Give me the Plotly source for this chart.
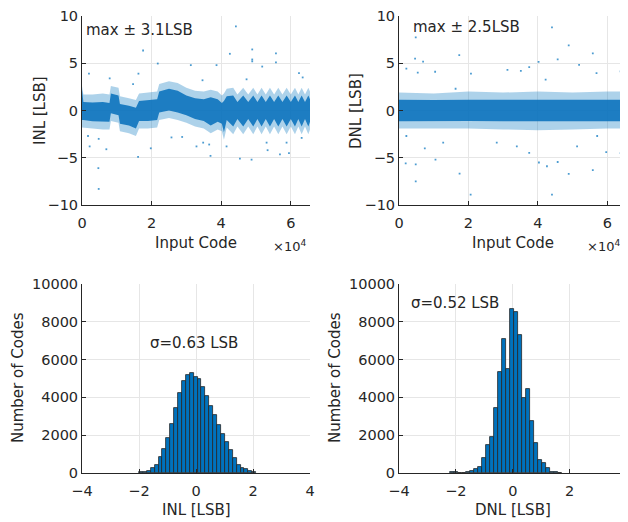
import plotly.graph_objects as go

# The page body has an 8 px margin, so the figure is drawn 8 px in from the
# window's top-left corner; positions below are given in window pixels.
OFF = 8
W, H = 628 - OFF, 522 - OFF

# ---------------- data ----------------
# INL vs input code: dense band (core) and sparse speckle envelope (outer)
inl_codes = [0, 400, 3000, 6000, 7900, 8300, 10500, 10900, 13500, 15500, 16400, 19000,
             21600, 22200, 25000, 27500, 30000, 32500, 35000, 37000, 39000, 40200, 40800,
             41600, 43470, 44670, 46340, 47780, 49220, 50420, 51620, 52820, 54020, 55220,
             56420, 57620, 58820, 60020, 61220, 62180, 63140, 64100, 65060, 65536]
inl_core_hi = [2.2, 0.9, 0.85, 0.9, 0.8, 1.8, 1.6, 0.7, 0.5, 0.3, 1.0, 1.1,
               1.2, 2.0, 2.3, 2.1, 1.6, 1.3, 1.2, 1.4, 1.2, 0.8, 1.0,
               1.5, 1.6, 0.9, 1.6, 0.9, 1.6, 0.9, 1.6, 0.9, 1.6, 0.9,
               1.6, 0.9, 1.6, 0.9, 1.6, 0.9, 1.6, 0.9, 1.6, 1.2]
inl_core_lo = [-1.0, -1.0, -1.15, -1.2, -1.2, -0.3, -0.5, -1.4, -1.6, -1.9, -1.1, -1.1,
               -1.0, -0.2, 0.0, -0.2, -0.5, -0.9, -1.1, -1.6, -1.2, -1.4, -2.3,
               -1.0, -1.7, -0.9, -1.7, -0.9, -1.7, -0.9, -1.7, -0.9, -1.7, -0.9,
               -1.7, -0.9, -1.7, -0.9, -1.7, -0.9, -1.7, -0.9, -1.7, -1.2]
inl_outer_hi = [2.6, 1.7, 1.7, 1.8, 1.7, 2.6, 2.4, 1.5, 1.3, 1.1, 1.8, 1.9,
                2.0, 2.8, 3.1, 2.9, 2.4, 2.1, 2.0, 2.2, 2.0, 1.6, 1.8,
                2.3, 2.4, 1.7, 2.4, 1.7, 2.4, 1.7, 2.4, 1.7, 2.4, 1.7,
                2.4, 1.7, 2.4, 1.7, 2.4, 1.7, 2.4, 1.7, 2.4, 2.0]
inl_outer_lo = [-1.8, -1.8, -1.9, -2.0, -2.0, -1.1, -1.3, -2.2, -2.4, -2.7, -1.9, -1.9,
                -1.8, -1.0, -0.8, -1.0, -1.3, -1.7, -1.9, -2.4, -2.0, -2.2, -3.1,
                -1.8, -2.5, -1.7, -2.5, -1.7, -2.5, -1.7, -2.5, -1.7, -2.5, -1.7,
                -2.5, -1.7, -2.5, -1.7, -2.5, -1.7, -2.5, -1.7, -2.5, -2.0]
inl_out_code = [44230, 17560, 48930, 48930, 48930, 55750, 55750, 42500, 21780, 31280,
                2000, 16220, 51800, 62370, 38670, 1730, 2200, 4800, 7000, 4700, 4800,
                16120, 19770, 25720, 28790, 32910, 36940, 34830, 36560, 41550, 45390,
                48740, 53060, 53350, 56900, 59490, 63140, 58800, 14680, 7960, 34640,
                47300, 63430]
inl_out_val = [8.9, 6.35, 6.46, 5.4, 5.2, 6.04, 5.1, 6.0, 4.97, 4.8,
               3.9, 3.9, 4.65, 3.96, 4.8, -2.7, -3.8, -3.0, -4.1, -6.1, -8.3,
               -4.9, -4.0, -2.85, -2.8, -3.8, -4.8, -3.4, -3.6, -3.8, -5.1,
               -5.2, -3.4, -4.2, -4.65, -4.5, -2.9, -3.4, 2.8, 3.4, 3.2,
               3.3, 3.5]

# DNL vs input code
dnl_codes = [0, 10000, 20000, 30000, 40000, 50000, 60000, 65536]
dnl_core_hi = [1.15, 1.1, 1.15, 1.15, 1.15, 1.1, 1.15, 1.15]
dnl_core_lo = [-1.15, -1.15, -1.1, -1.15, -1.2, -1.15, -1.15, -1.15]
dnl_outer_hi = [1.9, 1.8, 2.0, 1.9, 2.0, 1.9, 2.0, 2.0]
dnl_outer_lo = [-1.9, -1.9, -1.9, -2.0, -2.1, -2.0, -1.9, -1.9]
dnl_out_code = [44070, 4820, 48890, 55830, 17360, 4630, 6940, 40210, 45710, 51880,
                2120, 5400, 10410, 16300, 20730, 31240, 35100, 37510, 42240, 56900,
                63840, 1930, 4820, 4820, 10510, 17450, 20640, 37510, 40310, 42620,
                44070, 45710, 48890, 55830, 59690, 63840, 2120, 7430, 12730, 28160,
                33940, 51300, 57090]
dnl_out_val = [8.8, 7.74, 6.9, 6.04, 5.87, 5.5, 5.17, 5.14, 5.4, 4.83,
               4.44, 4.0, 4.1, 2.3, 3.9, 4.3, 4.2, 4.6, 3.26, 3.96,
               4.13, -5.6, -7.5, -5.7, -5.2, -6.67, -8.9, -4.48, -5.5, -5.9,
               -8.9, -5.45, -6.7, -6.3, -4.4, -4.5, -2.7, -4.0, -3.4, -3.4,
               -3.8, -3.8, -2.7]

# Histograms
inl_bin_start, inl_bin_width = -2.0, 0.137
inl_counts = [35, 50, 120, 265, 440, 830, 1250, 1835, 2575, 3440, 4215, 4886, 5186, 5274,
              5098, 4957, 4533, 4057, 3563, 3069, 2540, 2064, 1658, 1217, 776, 441, 282,
              194, 106, 53]
dnl_bin_start, dnl_bin_width = -2.2, 0.141
dnl_counts = [35, 35, 20, 10, 50, 105, 195, 320, 775, 1480, 1905, 3420, 5345, 7070, 5500,
              8680, 8500, 7300, 3970, 4445, 2735, 1570, 670, 530, 265, 70, 35, 20]

code_ticks = [0, 20000, 40000, 60000]
code_ticktext = ["0", "2", "4", "6"]

# ---------------- styling ----------------
FONT = "DejaVu Sans"
TXT = "#262626"
BLUE = "#0072BD"


def px_x(p):
    return (p - OFF) / W


def px_y(p):
    return 1 - (p - OFF) / H


dom_x_left = [px_x(82), px_x(310)]
dom_x_right = [px_x(399), px_x(626.5)]
dom_y_top = [px_y(205), px_y(16)]
dom_y_bot = [px_y(473), px_y(284)]

axis_common = dict(showline=True, linecolor=TXT, linewidth=1, ticks="inside", ticklen=4,
                   tickcolor=TXT, showgrid=True, gridcolor="#e6e6e6", gridwidth=1,
                   zeroline=False, mirror=False, automargin=False,
                   ticklabeloverflow="allow",
                   tickfont=dict(family=FONT, size=14.5, color=TXT))
xaxis_common = dict(axis_common, ticklabelstandoff=5)

fig = go.Figure()


def band(xa, hi, lo, xref, yref, color):
    fig.add_trace(go.Scatter(x=list(xa) + list(xa)[::-1], y=list(hi) + list(lo)[::-1],
                             fill="toself", fillcolor=color, mode="lines",
                             line=dict(width=0), hoverinfo="skip", showlegend=False,
                             xaxis=xref, yaxis=yref))


# INL scatter
band(inl_codes, inl_outer_hi, inl_outer_lo, "x", "y", "rgba(0,114,189,0.32)")
band(inl_codes, inl_core_hi, inl_core_lo, "x", "y", "rgba(16,117,190,0.92)")
fig.add_trace(go.Scatter(x=inl_out_code, y=inl_out_val, mode="markers",
                         marker=dict(symbol="square", size=1.8, color=BLUE, opacity=0.7),
                         showlegend=False, xaxis="x", yaxis="y"))
# DNL scatter
band(dnl_codes, dnl_outer_hi, dnl_outer_lo, "x2", "y2", "rgba(0,114,189,0.32)")
band(dnl_codes, dnl_core_hi, dnl_core_lo, "x2", "y2", "rgba(16,117,190,0.92)")
fig.add_trace(go.Scatter(x=dnl_out_code, y=dnl_out_val, mode="markers",
                         marker=dict(symbol="square", size=1.8, color=BLUE, opacity=0.7),
                         showlegend=False, xaxis="x2", yaxis="y2"))

# Histograms
inl_centers = [inl_bin_start + inl_bin_width * (i + 0.5) for i in range(len(inl_counts))]
dnl_centers = [dnl_bin_start + dnl_bin_width * (i + 0.5) for i in range(len(dnl_counts))]
fig.add_trace(go.Bar(x=inl_centers, y=inl_counts, width=inl_bin_width,
                     marker=dict(color=BLUE, line=dict(color=TXT, width=0.8)),
                     showlegend=False, xaxis="x3", yaxis="y3"))
fig.add_trace(go.Bar(x=dnl_centers, y=dnl_counts, width=dnl_bin_width,
                     marker=dict(color=BLUE, line=dict(color=TXT, width=0.8)),
                     showlegend=False, xaxis="x4", yaxis="y4"))

fig.update_layout(
    template="none",
    width=W, height=H, autosize=False,
    margin=dict(l=0, r=0, t=0, b=0, pad=0),
    paper_bgcolor="white", plot_bgcolor="white",
    bargap=0, showlegend=False,
    xaxis=dict(xaxis_common, domain=dom_x_left, anchor="y", range=[0, 65536],
               tickvals=code_ticks, ticktext=code_ticktext),
    yaxis=dict(axis_common, domain=dom_y_top, anchor="x", range=[-10, 10],
               tickvals=[-10, -5, 0, 5, 10]),
    xaxis2=dict(xaxis_common, domain=dom_x_right, anchor="y2", range=[0, 65536],
                tickvals=code_ticks, ticktext=code_ticktext),
    yaxis2=dict(axis_common, domain=dom_y_top, anchor="x2", range=[-10, 10],
                tickvals=[-10, -5, 0, 5, 10]),
    xaxis3=dict(xaxis_common, domain=dom_x_left, anchor="y3", range=[-4, 4],
                tickvals=[-4, -2, 0, 2, 4]),
    yaxis3=dict(axis_common, domain=dom_y_bot, anchor="x3", range=[0, 10000],
                tickvals=[0, 2000, 4000, 6000, 8000, 10000], tickformat="d"),
    xaxis4=dict(xaxis_common, domain=dom_x_right, anchor="y4", range=[-4, 4],
                tickvals=[-4, -2, 0, 2, 4]),
    yaxis4=dict(axis_common, domain=dom_y_bot, anchor="x4", range=[0, 10000],
                tickvals=[0, 2000, 4000, 6000, 8000, 10000], tickformat="d"),
)


def ann(text, x, y, size=15, angle=0):
    fig.add_annotation(text=text, x=px_x(x), y=px_y(y), xref="paper", yref="paper",
                       showarrow=False, textangle=angle, xanchor="center", yanchor="middle",
                       font=dict(family=FONT, size=size, color=TXT))


ann("Input Code", 196, 243)
ann("Input Code", 512.5, 243)
ann("×10<sup>4</sup>", 289, 246, size=13)
ann("×10<sup>4</sup>", 603, 246, size=13)
ann("INL [LSB]", 40, 111, angle=-90)
ann("DNL [LSB]", 356, 111, angle=-90)
ann("Number of Codes", 18, 378, angle=-90)
ann("Number of Codes", 335, 378, angle=-90)
ann("INL [LSB]", 196, 510)
ann("DNL [LSB]", 512.5, 510)
ann("max ± 3.1LSB", 139.5, 30, size=15)
ann("max ± 2.5LSB", 466.5, 27, size=15)
ann("σ=0.63 LSB", 193.5, 343, size=15)
ann("σ=0.52 LSB", 454.5, 303, size=15)

fig.write_html("out.html")
